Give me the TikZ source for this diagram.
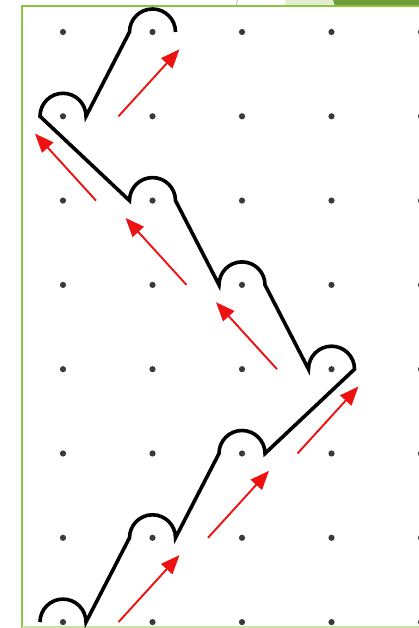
\documentclass[tikz,border=0pt]{standalone}
\usetikzlibrary{arrows.meta,calc}
\definecolor{frameGreen}{HTML}{8CC63F}
\definecolor{frameGreenLight}{HTML}{C9E2A6}
\definecolor{bandLight}{HTML}{E2ECD0}
\definecolor{bandDark}{HTML}{6E9E3C}
\definecolor{dotGray}{HTML}{3A3A3A}
\definecolor{arrRed}{HTML}{EE1111}
\tikzset{
  pathline/.style={line width=3.6pt, black},
  redarrow/.style={line width=1.9pt, arrRed, -{Triangle[length=19pt,width=15pt]}},
  griddot/.style={fill=dotGray},
  halfarc/.style={radius=23}
}
\begin{document}
\begin{tikzpicture}[x=1pt,y=1pt]
\useasboundingbox (0,0) rectangle (419,628);
\clip (0,0) rectangle (419,628);
% top bands
\fill[bandLight] (285,622) rectangle (335,628);
\fill[bandDark] (335,622) -- (333,628) -- (419,628) -- (419,622) -- cycle;
\draw[gray!70, line width=0.6pt] (236,622) -- (237.5,628);
% frame
\draw[frameGreen, line width=2.8pt] (22,0) -- (22,622) -- (419,622);
\draw[frameGreenLight, line width=2.4pt] (22,1) -- (419,1);
% grid of dots
\foreach \i in {0,...,4}{
  \foreach \j in {0,...,7}{
    \coordinate (d-\i-\j) at ({63+89.5*\i},{596-84.3*\j});
    \fill[griddot] (d-\i-\j) circle[radius=3.1];
  }
}
% black path
\draw[pathline]
  ($(d-0-7)+(-23,0)$) arc[start angle=180,end angle=0,halfarc]
  -- ($(d-1-6)+(-23,0)$) arc[start angle=180,end angle=0,halfarc]
  -- ($(d-2-5)+(-23,0)$) arc[start angle=180,end angle=0,halfarc]
  -- ($(d-3-4)+(23,0)$) arc[start angle=0,end angle=180,halfarc]
  -- ($(d-2-3)+(23,0)$) arc[start angle=0,end angle=180,halfarc]
  -- ($(d-1-2)+(23,0)$) arc[start angle=0,end angle=180,halfarc]
  -- ($(d-0-1)+(-23,0)$) arc[start angle=180,end angle=0,halfarc]
  -- ($(d-1-0)+(-23,0)$) arc[start angle=180,end angle=0,halfarc];
% red arrows
\coordinate (a1) at ($(d-1-7)+(-34,0)$);
\coordinate (a2) at ($(d-2-6)+(-34,0)$);
\coordinate (a3) at ($(d-3-5)+(-34,0)$);
\coordinate (a4) at ($(d-2-4)+(35,0)$);
\coordinate (a5) at ($(d-1-3)+(34,0)$);
\coordinate (a6) at ($(d-0-2)+(33,0)$);
\coordinate (a7) at ($(d-1-1)+(-34,0)$);
\draw[redarrow] (a1) -- ++(61,67);
\draw[redarrow] (a2) -- ++(61,67);
\draw[redarrow] (a3) -- ++(61,67);
\draw[redarrow] (a4) -- ++(-61,67);
\draw[redarrow] (a5) -- ++(-61,67);
\draw[redarrow] (a6) -- ++(-61,67);
\draw[redarrow] (a7) -- ++(61,67);
\end{tikzpicture}
\end{document}
